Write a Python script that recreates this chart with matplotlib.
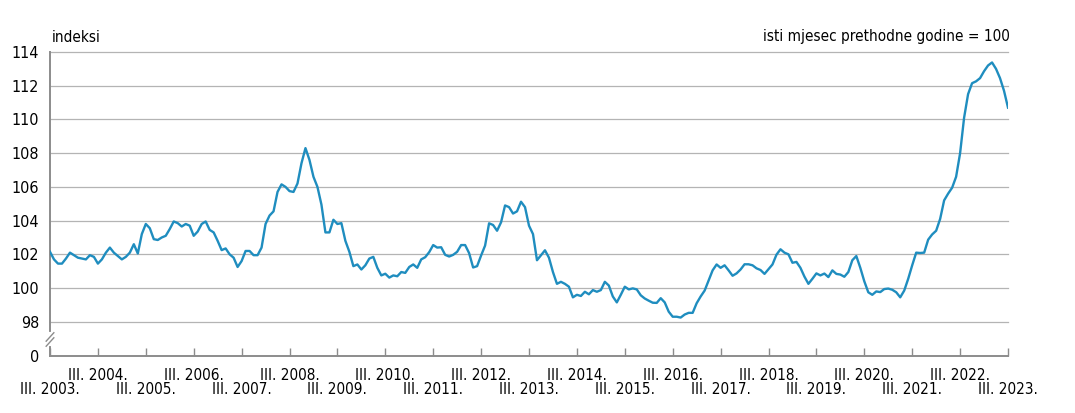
import numpy as np
import matplotlib
matplotlib.use("Agg")
import matplotlib.pyplot as plt

plt.rcParams['font.family'] = ['DejaVu Sans']
plt.rcParams['font.stretch'] = 'condensed'

# godisnja stopa, mjesecno, III.2003 - III.2023 (isti mjesec prethodne godine = 100)
v2003 = [102.15, 101.7, 101.45, 101.45, 101.75, 102.1, 101.95, 101.8, 101.75, 101.7, 101.95, 101.85]
v2004 = [101.45, 101.7, 102.1, 102.4, 102.1, 101.9, 101.7, 101.85, 102.1, 102.6, 102.05, 103.2]
v2005 = [103.8, 103.55, 102.9, 102.85, 103.0, 103.1, 103.5, 103.95, 103.85, 103.65, 103.8, 103.7]
v2006 = [103.1, 103.35, 103.8, 103.95, 103.45, 103.3, 102.8, 102.25, 102.35, 102.0, 101.8, 101.25]
v2007 = [101.6, 102.2, 102.2, 101.95, 101.95, 102.4, 103.8, 104.3, 104.55, 105.7, 106.15, 106.0]
v2008 = [105.75, 105.7, 106.2, 107.4, 108.3, 107.6, 106.6, 106.0, 104.95, 103.3, 103.3, 104.05]
v2009 = [103.8, 103.85, 102.8, 102.15, 101.3, 101.4, 101.1, 101.35, 101.75, 101.85, 101.2, 100.75]
v2010 = [100.85, 100.62, 100.75, 100.7, 100.95, 100.9, 101.25, 101.4, 101.2, 101.7, 101.83, 102.13]
v2011 = [102.55, 102.4, 102.42, 101.97, 101.87, 101.97, 102.15, 102.55, 102.55, 102.07, 101.22, 101.3]
v2012 = [101.93, 102.52, 103.84, 103.74, 103.4, 103.9, 104.9, 104.8, 104.42, 104.55, 105.12, 104.8]
v2013 = [103.7, 103.2, 101.65, 101.95, 102.24, 101.8, 100.95, 100.25, 100.37, 100.25, 100.08, 99.45]
v2014 = [99.6, 99.53, 99.78, 99.63, 99.88, 99.78, 99.88, 100.37, 100.15, 99.5, 99.15, 99.6]
v2015 = [100.08, 99.92, 99.98, 99.92, 99.57, 99.38, 99.25, 99.13, 99.12, 99.4, 99.15, 98.6]
v2016 = [98.3, 98.3, 98.25, 98.43, 98.53, 98.53, 99.1, 99.5, 99.85, 100.45, 101.05, 101.4]
v2017 = [101.2, 101.35, 101.05, 100.73, 100.87, 101.1, 101.41, 101.41, 101.35, 101.17, 101.07, 100.84]
v2018 = [101.12, 101.4, 101.98, 102.3, 102.1, 102.0, 101.5, 101.55, 101.2, 100.68, 100.25, 100.55]
v2019 = [100.87, 100.75, 100.86, 100.65, 101.05, 100.84, 100.8, 100.67, 100.95, 101.65, 101.9, 101.2]
v2020 = [100.4, 99.75, 99.6, 99.8, 99.76, 99.94, 99.97, 99.9, 99.75, 99.45, 99.85, 100.55]
v2021 = [101.35, 102.1, 102.08, 102.1, 102.87, 103.18, 103.4, 104.1, 105.2, 105.6, 105.95, 106.6]
v2022 = [108.0, 110.1, 111.5, 112.15, 112.26, 112.45, 112.86, 113.2, 113.38, 113.0, 112.45, 111.7]
v2023 = [110.7]

godine = list(range(2003, 2024))
y_ticks = [96, 98, 100, 102, 104, 106, 108, 110, 112, 114]
y_labels = ['0', '98', '100', '102', '104', '106', '108', '110', '112', '114']

vrijednosti = np.array(v2003 + v2004 + v2005 + v2006 + v2007 + v2008 + v2009 + v2010 +
                       v2011 + v2012 + v2013 + v2014 + v2015 + v2016 + v2017 + v2018 +
                       v2019 + v2020 + v2021 + v2022 + v2023)
mjeseci = np.arange(len(vrijednosti))

fig = plt.figure(figsize=(10.75, 4.13), dpi=100)
ax = fig.add_axes([50/1075, 1 - 355.5/413, 958/1075, 303.5/413])

siva = '#8c8c8c'
ax.plot(mjeseci, vrijednosti, color='#1f8dbf', lw=1.7, solid_joinstyle='round', zorder=3)

ax.set_xlim(0, 240)
ax.set_ylim(96, 114)

# horizontalne linije mreze (bez 0)
for g in y_ticks[1:]:
    ax.axhline(g, color='#b4b4b4', lw=0.9, zorder=1, clip_on=False)

ax.set_yticks(y_ticks)
ax.set_yticklabels(y_labels)
ax.tick_params(axis='y', length=0, pad=8, labelsize=11.5)

# parne godine u gornjem redu, neparne u donjem
parne = [g for g in godine if g % 2 == 0]
neparne = [g for g in godine if g % 2 == 1]
ax.set_xticks([(g - 2003) * 12 for g in parne])
ax.set_xticklabels([f'III. {g}.' for g in parne])
ax.set_xticks([(g - 2003) * 12 for g in neparne], minor=True)
ax.set_xticklabels([f'III. {g}.' for g in neparne], minor=True)
ax.tick_params(axis='x', which='major', direction='in', length=6, width=1, color=siva,
               labelsize=11, pad=9)
ax.tick_params(axis='x', which='minor', direction='in', length=6, width=1, color=siva,
               labelsize=11, pad=19)

for s in ['top', 'right']:
    ax.spines[s].set_visible(False)
for s in ['left', 'bottom']:
    ax.spines[s].set_color(siva)
    ax.spines[s].set_linewidth(1.4)

# oznaka prekida osi
trans = ax.get_yaxis_transform()
ax.plot([0, 0], [96.7, 97.3], transform=trans, color='white', lw=3, clip_on=False, zorder=4)
for dy in [0.0, 0.3]:
    ax.plot([-0.004, 0.004], [96.55 + dy, 97.05 + dy], transform=trans,
            color=siva, lw=1.0, clip_on=False, zorder=5)

fig.text(52/1075, 1 - 37/413, 'indeksi', fontsize=11, va='center', ha='left')
fig.text(1010/1075, 1 - 37/413, 'isti mjesec prethodne godine = 100', fontsize=11,
         va='center', ha='right')

fig.savefig('out.png', dpi=100)
